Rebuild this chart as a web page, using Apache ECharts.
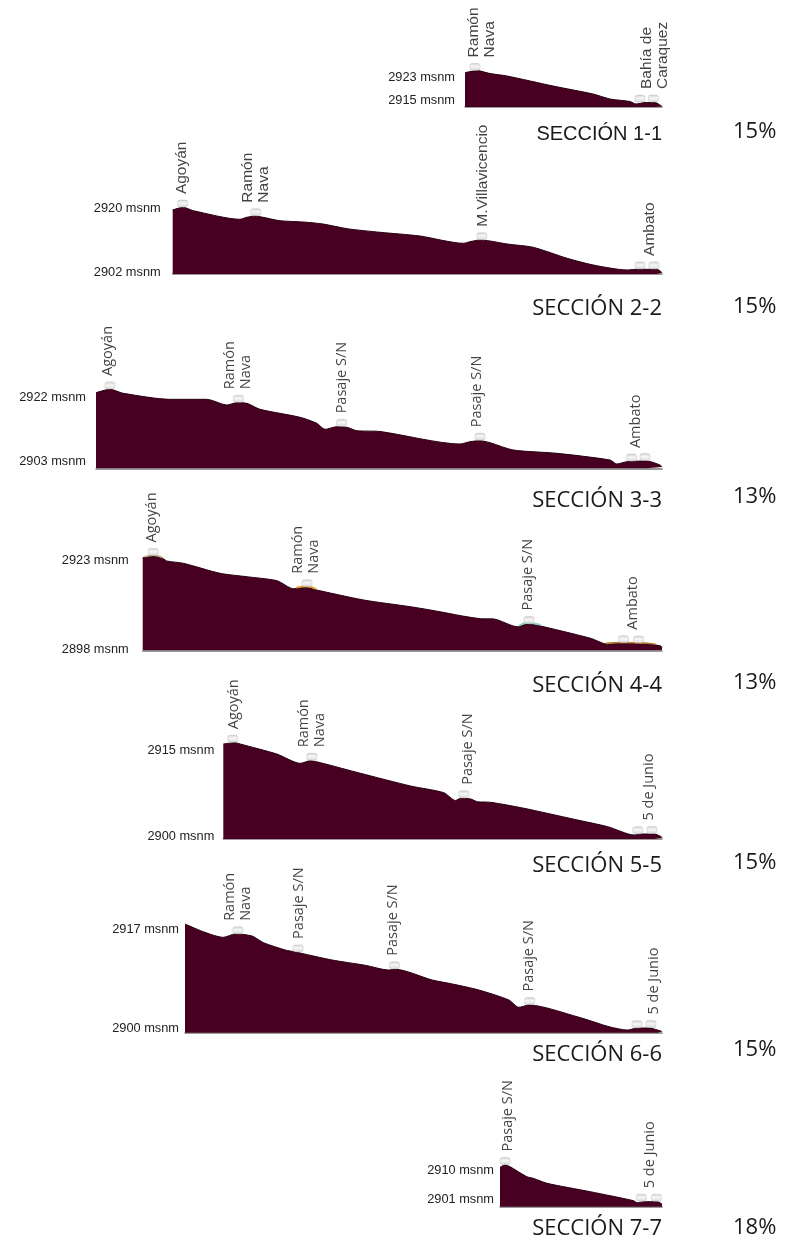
<!DOCTYPE html>
<html><head><meta charset="utf-8">
<script src="https://cdn.jsdelivr.net/npm/echarts@6/dist/echarts.min.js"></script>
<style>html,body{margin:0;padding:0;background:#fff}#c{width:798px;height:1241px}</style>
</head><body><div id="c"></div><script>
// ---------- DATA (distance m, elevation msnm) ----------
const sec1Profile = [[0,2924.75],[3,2925.5],[6.25,2924.46],[10.5,2923.57],[22,2920.0],[32,2917.14],[36.25,2915.36],[41.25,2914.46],[42.75,2913.57],[45,2914.1],[47.5,2914.1],[49.25,2912.7]];
const sec1Markers = [[2.5,2925.4],[43.75,2914.1],[47.1,2914.1]];
const sec1Labels = [[4.25,2925.4,'Ramón\nNava'],[47.5,2914.1,'Bahía de\nCaraquez']];
const sec1Ticks = [2923, 2915];

const sec2Profile = [[0,2919.63],[2.65,2920.39],[5.15,2919.43],[16.8,2917.01],[18.5,2917.57],[20.6,2917.94],[22.6,2917.57],[26.8,2916.61],[32.6,2916.25],[37.6,2915.68],[43.6,2914.36],[51.8,2913.35],[61.8,2912.3],[72.6,2910.25],[74.3,2910.7],[76.8,2911.18],[79.3,2910.9],[83.6,2910.05],[90.1,2909.12],[98.6,2906.02],[105.1,2904.14],[113.6,2902.73],[116.1,2902.92],[121.1,2902.92],[122.3,2901.97]];
const sec2Markers = [[2.5,2920.3],[20.75,2917.9],[77.25,2911.1],[116.8,2902.9],[120.3,2902.9]];
const sec2Labels = [[2.25,2920.3,'Agoyán'],[20.8,2917.9,'Ramón\nNava'],[77.6,2911.1,'M.Villavicencio'],[119.3,2902.9,'Ambato']];
const sec2Ticks = [2920, 2902];

const sec3Profile = [[0,2923.33],[3.5,2924.34],[6.8,2923.16],[18.5,2921.37],[27.7,2921.37],[32.7,2919.68],[35.2,2920.37],[37.7,2920.19],[41,2918.41],[51,2916.03],[55.2,2914.25],[57.25,2912.47],[60.2,2913.24],[62.7,2913.07],[65.2,2912.06],[71,2911.82],[91,2908.11],[93.5,2908.79],[96,2909.09],[98.5,2908.5],[104.3,2906.33],[115.2,2905.35],[128.5,2903.36],[130.2,2902.18],[132.7,2902.86],[137.7,2903.07],[141,2901.88],[141.5,2901.3]];
const sec3Markers = [[3.5,2924.3],[35.6,2920.35],[61.4,2913.2],[96,2909.1],[133.9,2902.9],[137.25,2903.05]];
const sec3Labels = [[3,2924.3,'Agoyán'],[35.5,2920.35,'Ramón\nNava'],[61.5,2913.2,'Pasaje S/N'],[95.25,2909.1,'Pasaje S/N'],[135,2902.9,'Ambato']];
const sec3Ticks = [2922, 2903];

const sec4Profile = [[0,2923.91],[2.65,2924.39],[5.15,2923.63],[6,2922.98],[10.15,2922.34],[19.3,2919.53],[26,2918.57],[33.5,2917.45],[37.65,2915.2],[41,2915.6],[42.65,2915.03],[55.15,2912.03],[66.8,2910.15],[71.8,2909.22],[84.3,2906.78],[87.65,2906.69],[93.5,2904.53],[96,2905.29],[98.5,2904.92],[111.8,2901.27],[116,2899.59],[119.3,2899.87],[126,2899.67],[129.3,2899.11],[129.6,2898.55]];
const sec4Markers = [[2.65,2924.4],[41,2915.6],[96.4,2905.3],[120,2899.9],[123.75,2899.8]];
const sec4Labels = [[2.3,2924.4,'Agoyán'],[40.6,2915.6,'Ramón\nNava'],[96.1,2905.3,'Pasaje S/N'],[122.3,2899.9,'Ambato']];
const sec4Ticks = [2923, 2898];
const sec4Accents = [
  {color:'#b9a76e', points:[[0.6,2924.15],[2.65,2924.6],[5.1,2923.85]]},
  {color:'#e0951c', points:[[38.3,2915.45],[41,2915.85],[43.3,2915.1]]},
  {color:'#8fd0c6', points:[[93.8,2904.75],[96,2905.6],[98.5,2905.25],[99.3,2905.0]]},
  {color:'#b87a2c', points:[[115.6,2899.85],[119.3,2900.1],[126,2899.9],[128,2899.6]]}
];

const sec5Profile = [[0,2916.08],[2.9,2916.31],[4.2,2916.08],[13.35,2914.33],[19.2,2912.71],[21.7,2913.16],[24.2,2912.82],[34.2,2910.97],[46.7,2908.75],[55,2907.58],[57.9,2906.22],[59.2,2906.6],[61.7,2906.48],[63.35,2906.01],[66.7,2905.9],[75,2904.86],[87.5,2902.94],[95.85,2901.65],[102.5,2900.2],[104.2,2900.37],[107.5,2900.37],[109.2,2899.9],[109.4,2899.7]];
const sec5Markers = [[2.35,2916.3],[22.1,2913.15],[60,2906.6],[103.35,2900.35],[106.9,2900.37]];
const sec5Labels = [[2.7,2916.3,'Agoyán'],[22,2913.15,'Ramón\nNava'],[60.9,2906.6,'Pasaje S/N'],[106.2,2900.37,'5 de Junio']];
const sec5Ticks = [2915, 2900];

const sec6Profile = [[0,2917.88],[9.6,2915.59],[12.5,2916.16],[16.7,2915.82],[19.6,2914.66],[25,2913.41],[27.5,2913.07],[36.7,2911.69],[45,2910.78],[50.8,2909.97],[52.5,2910.09],[61.7,2908.25],[66.7,2907.57],[73.3,2906.54],[80.8,2904.82],[83.3,2903.56],[85.8,2903.96],[98.3,2901.85],[105.8,2900.23],[110.4,2899.66],[112.5,2899.96],[115.8,2900.01],[117.9,2899.66],[119,2899.4]];
const sec6Markers = [[13.2,2916.1],[28.2,2913.0],[52.25,2910.1],[86,2903.95],[112.75,2899.96],[116.25,2900.0]];
const sec6Labels = [[13.1,2916.1,'Ramón\nNava'],[28.5,2913.0,'Pasaje S/N'],[51.75,2910.1,'Pasaje S/N'],[85.75,2903.95,'Pasaje S/N'],[117,2900.0,'5 de Junio']];
const sec6Ticks = [2917, 2900];

const sec7Profile = [[0,2911.09],[1.25,2911.81],[2.5,2911.28],[6.7,2908.13],[8.3,2907.63],[11.7,2906.06],[22.5,2903.42],[33.3,2900.59],[34.2,2899.96],[35.8,2900.27],[39.2,2900.27],[40.4,2899.55]];
const sec7Markers = [[1.25,2911.8],[35.25,2900.27],[39,2900.27]];
const sec7Labels = [[2,2911.8,'Pasaje S/N'],[37.5,2900.27,'5 de Junio']];
const sec7Ticks = [2910, 2901];

const sectionTitles = ['SECCIÓN 1-1','SECCIÓN 2-2','SECCIÓN 3-3','SECCIÓN 4-4','SECCIÓN 5-5','SECCIÓN 6-6','SECCIÓN 7-7'];
const slopeLabels = ['15%','15%','13%','13%','15%','15%','18%'];

// ---------- LAYOUT ----------
const layout = [
  {left:465,   bottom:107,    yMin:2912.5, yMax:2927.5, scale:2.8,  margin:10, titleY:135,  slopeY:132,  font:'Liberation Sans', fs:15.5, titleFont:'Liberation Sans', tfs:20},
  {left:172.7, bottom:274,    yMin:2901.6, yMax:2922,   scale:3.55, margin:12, titleY:310,  slopeY:307,  font:'Liberation Sans', fs:15.5, titleFont:'Open Sans', tfs:22},
  {left:96,    bottom:468.3,  yMin:2900.9, yMax:2926,   scale:3.37, margin:10, titleY:502,  slopeY:497,  font:'Open Sans', fs:14.5, titleFont:'Open Sans', tfs:22},
  {left:142.7, bottom:650.3,  yMin:2897.9, yMax:2926,   scale:3.56, margin:14, titleY:687,  slopeY:683,  font:'Open Sans', fs:14.5, titleFont:'Open Sans', tfs:22},
  {left:223.3, bottom:839,    yMin:2899.5, yMax:2918,   scale:5.73, margin:9,  titleY:867,  slopeY:863,  font:'Open Sans', fs:14.5, titleFont:'Open Sans', tfs:22},
  {left:185,   bottom:1032.7, yMin:2899.2, yMax:2919,   scale:5.82, margin:6,  titleY:1056, slopeY:1050, font:'Open Sans', fs:14.5, titleFont:'Open Sans', tfs:22},
  {left:500,   bottom:1206.7, yMin:2898.7, yMax:2913,   scale:3.18, margin:6,  titleY:1230, slopeY:1228, font:'Open Sans', fs:14.5, titleFont:'Open Sans', tfs:22}
];
const sections = [
  {profile:sec1Profile, markers:sec1Markers, labels:sec1Labels, ticks:sec1Ticks, accents:[]},
  {profile:sec2Profile, markers:sec2Markers, labels:sec2Labels, ticks:sec2Ticks, accents:[]},
  {profile:sec3Profile, markers:sec3Markers, labels:sec3Labels, ticks:sec3Ticks, accents:[]},
  {profile:sec4Profile, markers:sec4Markers, labels:sec4Labels, ticks:sec4Ticks, accents:sec4Accents},
  {profile:sec5Profile, markers:sec5Markers, labels:sec5Labels, ticks:sec5Ticks, accents:[]},
  {profile:sec6Profile, markers:sec6Markers, labels:sec6Labels, ticks:sec6Ticks, accents:[]},
  {profile:sec7Profile, markers:sec7Markers, labels:sec7Labels, ticks:sec7Ticks, accents:[]}
];

const RIGHT = 136;
const grid = [], xAxis = [], yAxis = [], series = [], title = [];
const markerColor = new echarts.graphic.LinearGradient(0,0,0,1,[
  {offset:0,color:'#c8c8c8'},{offset:0.45,color:'#f4f4f4'},{offset:1,color:'#d0d0d0'}]);

sections.forEach((s, i) => {
  const L = layout[i];
  const h = (L.yMax - L.yMin) * L.scale;
  grid.push({left:L.left, right:RIGHT, top:L.bottom - h, height:h, containLabel:false});
  xAxis.push({type:'value', gridIndex:i, min:0, max:s.profile[s.profile.length-1][0],
    axisLine:{show:true, onZero:false, lineStyle:{color:'#7a7a7a', width:1.5}},
    axisTick:{show:false}, axisLabel:{show:false}, splitLine:{show:false}});
  yAxis.push({type:'value', gridIndex:i, min:L.yMin, max:L.yMax,
    axisLine:{show:false}, axisTick:{show:false}, splitLine:{show:false},
    axisLabel:{show:true, customValues:s.ticks, formatter:v => v + ' msnm', margin:L.margin,
      fontSize:12.8, color:'#222', fontFamily:'Liberation Sans'}});
  series.push({type:'line', xAxisIndex:i, yAxisIndex:i, data:s.profile, symbol:'none', smooth:0.25,
    lineStyle:{color:'#2a0012', width:1}, areaStyle:{color:'#470022', opacity:1, origin:'start'},
    silent:true, z:2, animation:false});
  s.accents.forEach(a => series.push({type:'line', xAxisIndex:i, yAxisIndex:i, data:a.points, symbol:'none',
    smooth:0.5, lineStyle:{color:a.color, width:1.6}, silent:true, z:3, animation:false}));
  series.push({type:'scatter', xAxisIndex:i, yAxisIndex:i, data:s.markers, symbol:'roundRect',
    symbolSize:[10,7], symbolOffset:[0,-4], itemStyle:{color:markerColor, borderColor:'#b5b5b5', borderWidth:0.5},
    silent:true, z:5, animation:false});
  series.push({type:'scatter', xAxisIndex:i, yAxisIndex:i,
    data:s.labels.map(d => ({value:[d[0], d[1]], name:d[2]})), symbolSize:1,
    itemStyle:{color:'rgba(0,0,0,0)'},
    label:{show:true, formatter:'{b}', position:'top', distance:13, rotate:90, align:'left',
      verticalAlign:'middle', fontSize:L.fs, fontFamily:L.font, color:'#111', lineHeight:16},
    silent:true, z:6, animation:false});
  title.push({text:sectionTitles[i], right:RIGHT, top:L.titleY - L.tfs/2 - 1, padding:0,
    textStyle:{fontSize:L.tfs, fontWeight:'normal', fontFamily:L.titleFont, color:'#1a1a1a'}});
  title.push({text:slopeLabels[i], left:733, top:L.slopeY - 11, padding:0,
    textStyle:{fontSize:22, fontWeight:'normal', fontFamily:'Open Sans', color:'#1a1a1a'}});
});

const chart = echarts.init(document.getElementById('c'), null, {renderer:'canvas'});
chart.setOption({animation:false, backgroundColor:'#fff', title, grid, xAxis, yAxis, series});
</script></body></html>
